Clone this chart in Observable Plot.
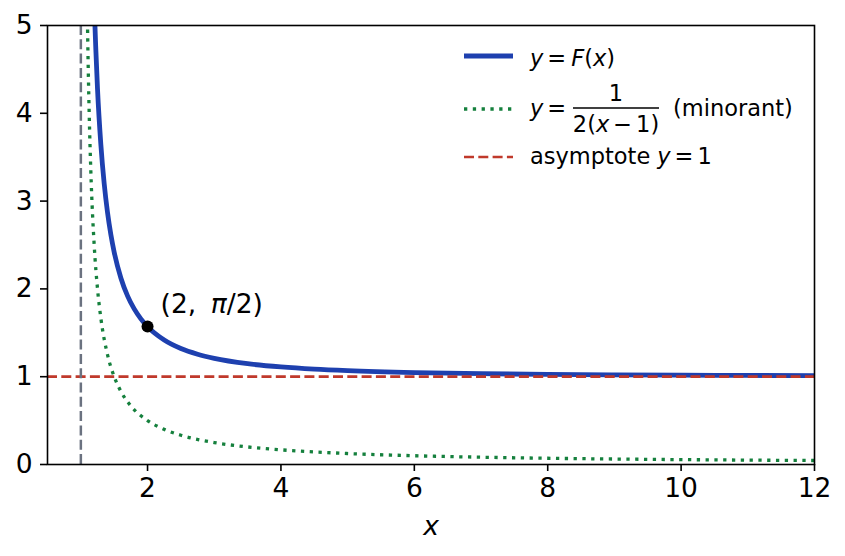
<!DOCTYPE html>
<html><head><meta charset="utf-8">
<script src="https://cdn.jsdelivr.net/npm/d3@7"></script>
<script src="https://cdn.jsdelivr.net/npm/@observablehq/plot@0.6"></script>
<style>body{margin:0;background:#fff}</style>
</head><body><div id="chart"></div>
<script>
// y = F(x)
const fX = [1.18, 1.2, 1.225, 1.25, 1.3, 1.35, 1.4, 1.45, 1.5, 1.6, 1.7, 1.8, 1.9, 2, 2.25, 2.5, 2.75, 3, 3.5, 4, 4.5, 5, 6, 7, 8, 9, 10, 11, 12];
const fY = [5.774, 5.236, 4.72, 4.276, 3.644, 3.199, 2.870, 2.618, 2.418, 2.125, 1.921, 1.772, 1.659, 1.5708, 1.418, 1.321, 1.256, 1.209, 1.148, 1.111, 1.086, 1.069, 1.047, 1.034, 1.026, 1.021, 1.017, 1.014, 1.012];
// y = 1/(2(x-1))
const gX = [1.09, 1.1, 1.125, 1.15, 1.2, 1.25, 1.3, 1.4, 1.5, 1.6, 1.75, 2, 2.25, 2.5, 3, 3.5, 4, 5, 6, 7, 8, 9, 10, 11, 12];
const gY = [5.556, 5, 4, 3.333, 2.5, 2, 1.667, 1.25, 1, 0.833, 0.667, 0.5, 0.4, 0.333, 0.25, 0.2, 0.167, 0.125, 0.1, 0.083, 0.071, 0.0625, 0.0556, 0.05, 0.0455];
const xTicks = [2, 4, 6, 8, 10, 12];
const yTicks = [0, 1, 2, 3, 4, 5];
const asymptoteY = [1];
const poleX = [1];
const pointX = [2];
const pointY = [1.5708];
const pointLabel = ["(2,  π/2)"];

const colors = {F: "#1e40af", G: "#15803d", asym: "#c0392b", pole: "#6b7280"};

const F = fX.map((x, i) => ({x, y: fY[i]}));
const G = gX.map((x, i) => ({x, y: gY[i]}));
const P = pointX.map((x, i) => ({x, y: pointY[i], label: pointLabel[i]}));
const font = "'DejaVu Sans', sans-serif";
const tickFont = 26.5;

const plot = Plot.plot({
  width: 845, height: 556,
  marginLeft: 47, marginRight: 31, marginTop: 25, marginBottom: 92,
  x: {domain: [0.5, 12]},
  y: {domain: [0, 5]},
  style: {fontFamily: font, background: "#fff", color: "#000", overflow: "visible"},
  marks: [
    Plot.line(G, {x: "x", y: "y", stroke: colors.G, strokeWidth: 3.3, strokeDasharray: "3.3,5.5", strokeLinecap: "butt", curve: "monotone-x", clip: true}),
    Plot.line(F, {x: "x", y: "y", stroke: colors.F, strokeWidth: 4.8, curve: "monotone-x", clip: true}),
    Plot.ruleY(asymptoteY, {stroke: colors.asym, strokeWidth: 2.7, strokeDasharray: "10,4.3"}),
    Plot.ruleX(poleX, {stroke: colors.pole, strokeWidth: 2.5, strokeDasharray: "10,4.3"}),
    Plot.dot(P, {x: "x", y: "y", r: 6, fill: "#000"}),
    Plot.text(P, {x: "x", y: "y", text: "label", dx: 13, dy: -14, textAnchor: "start", lineAnchor: "bottom", fontSize: 26.5, className: "annot"}),
    Plot.frame({stroke: "#000", strokeWidth: 1.6}),
    Plot.axisX(xTicks, {tickSize: 7, tickPadding: 7, fontSize: tickFont, strokeWidth: 1.6, tickFormat: d => String(d), label: null}),
    Plot.axisY(yTicks, {tickSize: 7, tickPadding: 8, fontSize: tickFont, strokeWidth: 1.6, tickFormat: d => String(d), label: null}),
    Plot.text(["x"], {frameAnchor: "bottom", dy: 70, lineAnchor: "bottom", fontSize: tickFont, fontStyle: "italic"})
  ]
});

const svg = d3.select(plot);

// annotation: italic pi
svg.selectAll("g.annot text").each(function() {
  const t = d3.select(this);
  const parts = t.text().split("π");
  t.text(null);
  t.append("tspan").text(parts[0].trim());
  t.append("tspan").attr("dx", "0.55em").attr("font-style", "italic").text("π");
  t.append("tspan").text(parts[1]);
});

// legend
const L = svg.append("g").attr("font-family", font).attr("font-size", 22.5).attr("fill", "#000");
function handle(y, stroke, w, dash) {
  L.append("line").attr("x1", 464).attr("x2", 513).attr("y1", y).attr("y2", y)
    .attr("stroke", stroke).attr("stroke-width", w).attr("stroke-dasharray", dash || null);
}
handle(56, colors.F, 4.8);
handle(109, colors.G, 3.3, "3.3,5.5");
handle(157, colors.asym, 2.7, "10,4.3");

// pieces: [text, italic, dx]
function mathText(x, y, pieces, anchor) {
  const t = L.append("text").attr("x", x).attr("y", y).attr("text-anchor", anchor || "start");
  for (const [s, it, dx] of pieces) {
    const sp = t.append("tspan").text(s);
    if (it) sp.attr("font-style", "italic");
    if (dx) sp.attr("dx", dx);
  }
  return t;
}
// row 1: y = F(x)
mathText(530, 66, [["y", 1], ["=", 0, 4], ["F", 1, 5], ["(", 0], ["x", 1], [")", 0]]);
// row 2: y = 1 / (2(x-1)) (minorant)
mathText(530, 116, [["y", 1], ["=", 0, 4]]);
L.append("line").attr("x1", 573).attr("x2", 659).attr("y1", 108).attr("y2", 108).attr("stroke", "#000").attr("stroke-width", 1.4);
mathText(616, 101, [["1", 0]], "middle");
mathText(616, 132, [["2(", 0], ["x", 1], ["−", 0, 4], ["1)", 0, 4]], "middle");
mathText(673, 116, [["(minorant)", 0]]);
// row 3
mathText(530, 164, [["asymptote", 0], ["y", 1, 7], ["=", 0, 4], ["1", 0, 4]]);

document.getElementById("chart").appendChild(plot);
</script>
</body></html>
